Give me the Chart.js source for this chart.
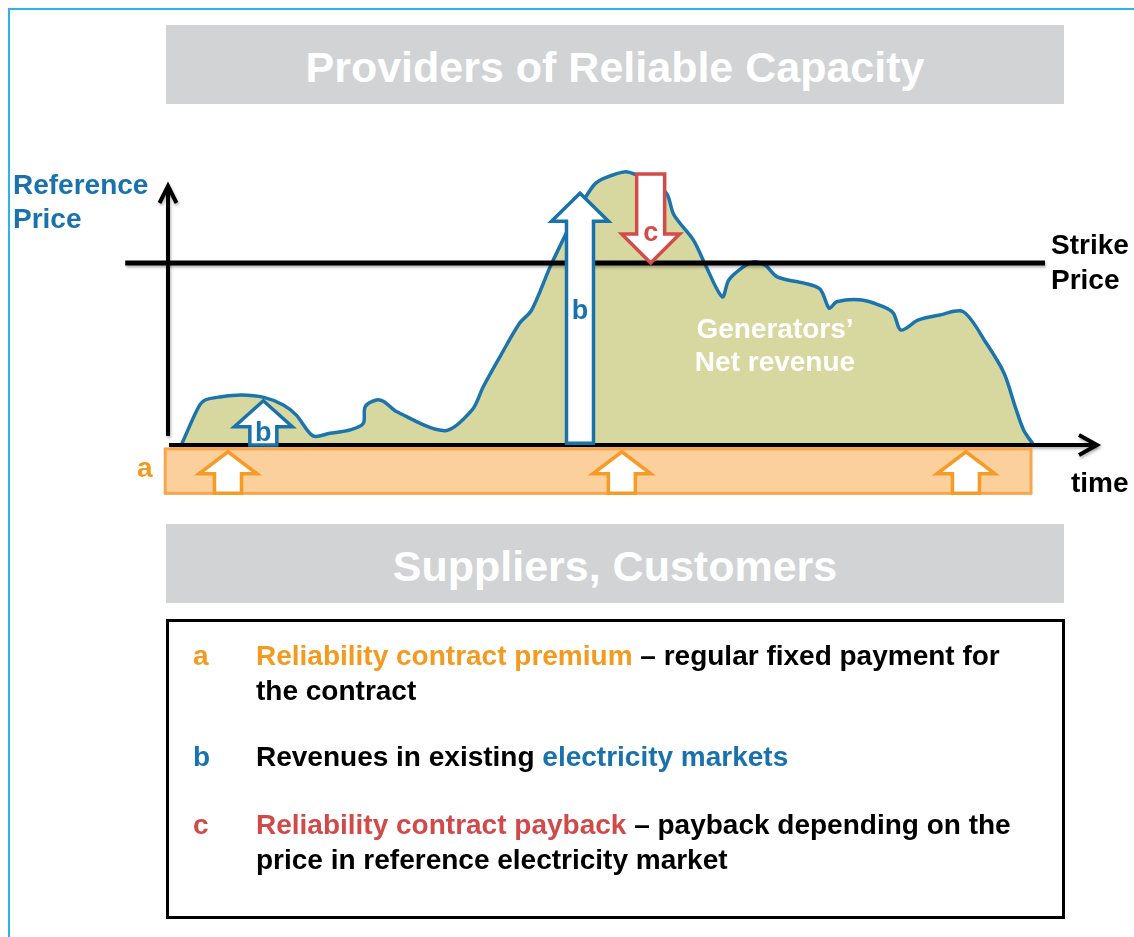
<!DOCTYPE html>
<html>
<head>
<meta charset="utf-8">
<script src="https://cdn.jsdelivr.net/npm/chart.js@4/dist/chart.umd.min.js"></script>
<style>
  html,body{margin:0;padding:0;background:#fff;}
  body{width:1134px;height:937px;position:relative;overflow:hidden;font-family:"Liberation Sans",Arial,sans-serif;}
  #frameTop{position:absolute;left:8px;top:8px;width:1126px;height:0;border-top:2px solid #2db4e6;}
  #frameLeft{position:absolute;left:8px;top:8px;width:0;height:929px;border-left:2px solid #2db4e6;}
  .banner{position:absolute;left:166px;width:898px;height:79px;background:#d2d3d5;color:#fff;font-weight:bold;font-size:43px;text-align:center;line-height:84px;}
  #legendBox{position:absolute;left:166px;top:619px;width:893px;height:294px;border:3.5px solid #000;}
  .row{position:absolute;left:0;font-weight:bold;font-size:28px;line-height:35px;color:#000;}
  .key{position:absolute;left:24px;}
  .txt{position:absolute;left:87px;width:780px;}
  canvas{position:absolute;left:0;top:0;}
</style>
</head>
<body>
<div id="frameTop"></div>
<div id="frameLeft"></div>
<div class="banner" style="top:25px;">Providers of Reliable Capacity</div>
<div class="banner" style="top:524px;">Suppliers, Customers</div>
<canvas id="c" width="1134" height="937"></canvas>
<div id="legendBox">
  <div class="row" style="top:16px;"><span class="key" style="color:#f39a21;">a</span><span class="txt"><span style="color:#f39a21;">Reliability contract premium</span> – regular fixed payment for the contract</span></div>
  <div class="row" style="top:117px;"><span class="key" style="color:#1a72ad;">b</span><span class="txt">Revenues in existing <span style="color:#1a72ad;">electricity markets</span></span></div>
  <div class="row" style="top:185px;"><span class="key" style="color:#d14a4a;">c</span><span class="txt"><span style="color:#d14a4a;">Reliability contract payback</span> – payback depending on the price in reference electricity market</span></div>
</div>
<script>
// ---- data (time units 0..100, price units 0..110) ----
const priceTime  = [1.5, 3.3, 4.0, 5.6, 7.9, 10.3, 12.4, 13.8, 15.6, 17.4, 19.6, 21.0, 21.2, 22.4, 23.2, 24.6, 29.8, 32.7, 33.9, 35.7, 37.8, 39.1, 41.1, 42.9, 44.1, 45.8, 47.0, 49.2, 50.4, 51.8, 53.6, 54.4, 56.5, 57.7, 59.6, 60.3, 61.9, 63.0, 64.2, 65.5, 70.0, 71.1, 71.9, 74.6, 76.9, 78.0, 78.8, 80.7, 83.0, 85.5, 88.0, 89.9, 91.1, 92.0, 93.0];
const priceValue = [0.6, 14.7, 17.3, 18.5, 19.2, 18.3, 15.4, 11.5, 3.5, 4.5, 5.8, 8.3, 14.7, 17.3, 16.7, 12.8, 5.5, 13.5, 22.4, 34.0, 46.8, 51.9, 68.6, 82.0, 90.4, 100.0, 102.7, 105.1, 103.8, 101.5, 96.8, 88.5, 78.8, 69.9, 57.0, 63.5, 68.6, 70.5, 69.2, 64.7, 60.3, 52.6, 55.1, 55.8, 53.2, 50.7, 44.2, 48.1, 50.0, 51.3, 39.1, 27.6, 14.7, 5.8, 0.4];
const strikePrice = 70;
const strikeSpan = [-4.6, 94.3];
const premiumBandTime = [-0.3, 92.8];
const premiumBandValue = [-1.5, -18.6];
const premiumArrowTime = [6.45, 48.8, 85.8];
const premiumArrowValue = [-18.6, -2.6];
const revenueArrowTime = [10.25, 44.3];
const revenueArrowTop = [17.0, 96.8];
const paybackArrowTime = [51.9];
const paybackArrowTop = [104.2];
const axisTimeMax = 100;
const axisPriceMax = 100;

const points = priceTime.map((t, i) => ({x: t, y: priceValue[i]}));

function blockArrow(ctx, cx, yBase, yTip, shaftW, headW, headL, stroke, lw) {
  const dir = yTip < yBase ? 1 : -1;
  const yHeadBase = yTip + dir * headL;
  ctx.save();
  ctx.beginPath();
  ctx.moveTo(cx - shaftW / 2, yBase);
  ctx.lineTo(cx - shaftW / 2, yHeadBase);
  ctx.lineTo(cx - headW / 2, yHeadBase);
  ctx.lineTo(cx, yTip);
  ctx.lineTo(cx + headW / 2, yHeadBase);
  ctx.lineTo(cx + shaftW / 2, yHeadBase);
  ctx.lineTo(cx + shaftW / 2, yBase);
  ctx.closePath();
  ctx.fillStyle = '#fff';
  ctx.fill();
  ctx.lineWidth = lw;
  ctx.strokeStyle = stroke;
  ctx.lineJoin = 'miter';
  ctx.stroke();
  ctx.restore();
}

const overlay = {
  id: 'overlay',
  afterDatasetsDraw(chart) {
    const ctx = chart.ctx;
    const xs = chart.scales.x, ys = chart.scales.y;
    const X = v => xs.getPixelForValue(v), Y = v => ys.getPixelForValue(v);

    ctx.save();
    ctx.shadowColor = 'rgba(0,0,0,0.3)';
    ctx.shadowBlur = 3; ctx.shadowOffsetX = 1; ctx.shadowOffsetY = 2;
    ctx.strokeStyle = '#000'; ctx.lineWidth = 5;
    ctx.beginPath();
    ctx.moveTo(X(strikeSpan[0]), Y(strikePrice));
    ctx.lineTo(X(strikeSpan[1]), Y(strikePrice));
    ctx.stroke();

    ctx.lineWidth = 4; ctx.lineCap = 'butt';
    ctx.beginPath();
    ctx.moveTo(X(0), Y(3.5)); ctx.lineTo(X(0), Y(axisPriceMax) + 2);
    ctx.stroke();
    ctx.beginPath();
    ctx.moveTo(X(0) - 8.5, Y(axisPriceMax) + 18);
    ctx.lineTo(X(0), Y(axisPriceMax) + 1);
    ctx.lineTo(X(0) + 8.5, Y(axisPriceMax) + 18);
    ctx.stroke();
    ctx.beginPath();
    ctx.moveTo(X(0) + 1, Y(0)); ctx.lineTo(X(axisTimeMax) - 2, Y(0));
    ctx.stroke();
    ctx.beginPath();
    ctx.moveTo(X(axisTimeMax) - 19, Y(0) - 10);
    ctx.lineTo(X(axisTimeMax) - 1, Y(0));
    ctx.lineTo(X(axisTimeMax) - 19, Y(0) + 10);
    ctx.stroke();
    ctx.restore();

    ctx.save();
    const bx0 = X(premiumBandTime[0]), bx1 = X(premiumBandTime[1]);
    const by0 = Y(premiumBandValue[0]), by1 = Y(premiumBandValue[1]);
    ctx.fillStyle = '#fcd09d';
    ctx.fillRect(bx0, by0, bx1 - bx0, by1 - by0);
    ctx.strokeStyle = '#f8a54d'; ctx.lineWidth = 3;
    ctx.strokeRect(bx0, by0, bx1 - bx0, by1 - by0);
    ctx.restore();

    premiumArrowTime.forEach(t => {
      blockArrow(ctx, X(t), Y(premiumArrowValue[0]), Y(premiumArrowValue[1]), 27, 58, 22, '#f69b26', 3.5);
    });

    blockArrow(ctx, X(revenueArrowTime[0]), Y(0), Y(revenueArrowTop[0]), 27, 58, 26, '#1a72ad', 3.5);
    blockArrow(ctx, X(revenueArrowTime[1]), Y(0.7), Y(revenueArrowTop[1]), 27, 57, 28, '#1a72ad', 3.5);
    blockArrow(ctx, X(paybackArrowTime[0]), Y(paybackArrowTop[0]), Y(strikePrice), 28, 58, 29, '#d34b4b', 3.5);

    ctx.save();
    ctx.textAlign = 'center'; ctx.textBaseline = 'middle';
    ctx.font = 'bold 27px "Liberation Sans", Arial, sans-serif';
    ctx.fillStyle = '#1a72ad';
    ctx.fillText('b', X(revenueArrowTime[0]), Y(4.5));
    ctx.fillText('b', X(revenueArrowTime[1]), Y(51.5));
    ctx.fillStyle = '#d34b4b';
    ctx.fillText('c', X(paybackArrowTime[0]), Y(81.5));
    ctx.fillStyle = '#fff';
    ctx.font = 'bold 28px "Liberation Sans", Arial, sans-serif';
    ctx.fillText('Generators\u2019', 775, 330);
    ctx.fillText('Net revenue', 775, 363);
    ctx.textAlign = 'left';
    ctx.fillStyle = '#1a72ad';
    ctx.fillText('Reference', 13, 186);
    ctx.fillText('Price', 13, 220);
    ctx.fillStyle = '#000';
    ctx.fillText('Strike', 1051, 246);
    ctx.fillText('Price', 1051, 281);
    ctx.fillText('time', 1071, 484);
    ctx.fillStyle = '#f39a21';
    ctx.fillText('a', 137, 469);
    ctx.restore();
  }
};

new Chart(document.getElementById('c'), {
  type: 'line',
  data: {
    datasets: [{
      data: points,
      borderColor: '#1b74ad',
      borderWidth: 3.5,
      backgroundColor: '#d7d89f',
      fill: 'origin',
      tension: 0.3,
      pointRadius: 0
    }]
  },
  options: {
    responsive: false,
    animation: false,
    events: [],
    layout: {padding: {left: 168, right: 36, top: 159, bottom: 440}},
    plugins: {legend: {display: false}, tooltip: {enabled: false}},
    scales: {
      x: {type: 'linear', min: 0, max: 100, display: false},
      y: {type: 'linear', min: -20, max: 110, display: false}
    }
  },
  plugins: [overlay]
});
</script>
</body>
</html>
